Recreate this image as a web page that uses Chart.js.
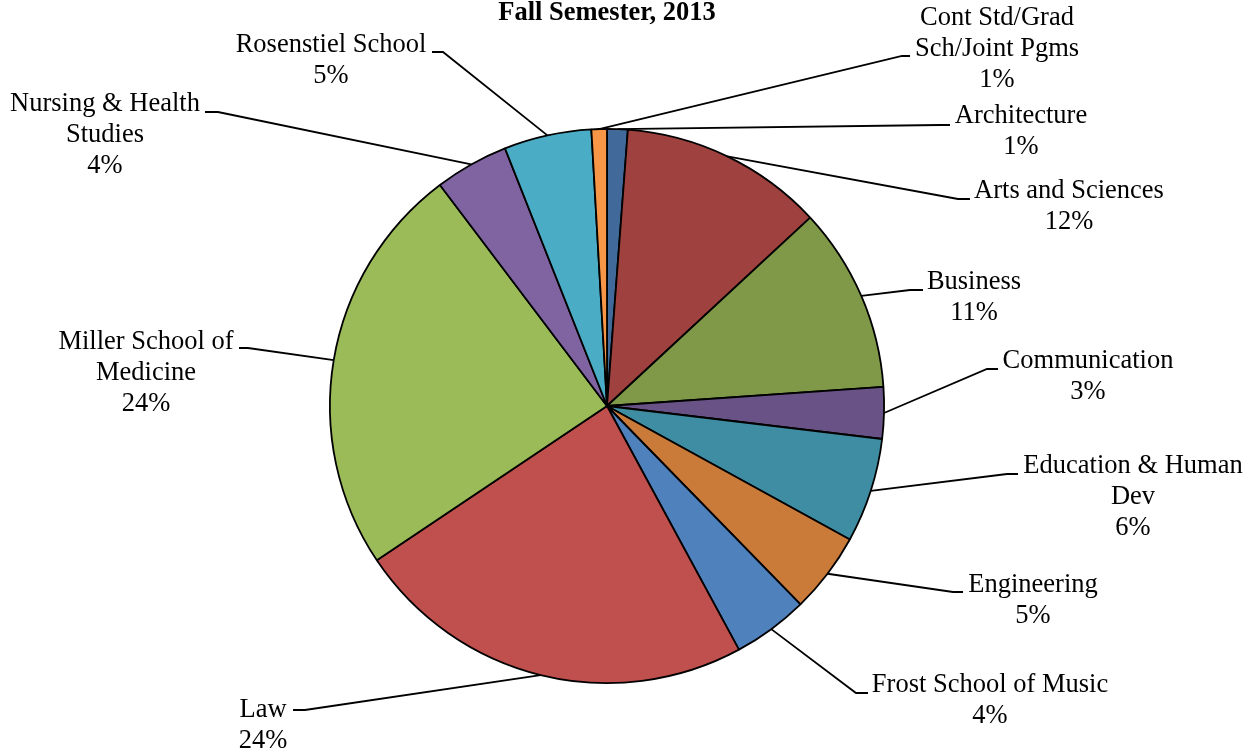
<!DOCTYPE html>
<html lang="en">
<head>
  <meta charset="UTF-8">
  <title>Fall Semester, 2013</title>
  <script src="https://cdn.jsdelivr.net/npm/chart.js"></script>
  <style>
    html, body {
      margin: 0;
      padding: 0;
      background: #ffffff;
    }
    #wrap {
      width: 1256px;
      height: 752px;
    }
  </style>
</head>
<body>
  <div id="wrap"><canvas id="pieChart" width="1256" height="752"></canvas></div>

  <script>
    // data
    const schools = [
      'Architecture', 'Arts and Sciences', 'Business', 'Communication',
      ['Education & Human', 'Dev'], 'Engineering', 'Frost School of Music', 'Law',
      ['Miller School of', 'Medicine'], ['Nursing & Health', 'Studies'],
      'Rosenstiel School', ['Cont Std/Grad', 'Sch/Joint Pgms']
    ];
    const shares = [1.2, 11.9, 10.8, 3.0, 6.1, 4.7, 4.4, 23.5, 24.1, 4.3, 5.1, 0.9];
    const sliceColors = [
      '#416a9b', '#9e413f', '#7f9949', '#695285', '#3e8da2', '#cb7b39',
      '#4f81bd', '#c0504d', '#9bbb59', '#8064a2', '#4bacc6', '#f79646'
    ];
    const titleText = 'Fall Semester, 2013';

    // where each label sits: text centre x, first line y, elbow of leader, end of hook
    const labelLayout = [
      { x: 1021, y: 116, ex: 940, ey: 125, hx: 950 },
      { x: 1069, y: 191, ex: 958, ey: 199, hx: 970 },
      { x: 974,  y: 282, ex: 910, ey: 290, hx: 923 },
      { x: 1088, y: 361, ex: 987, ey: 369, hx: 998 },
      { x: 1133, y: 466, ex: 1007, ey: 474, hx: 1018 },
      { x: 1033, y: 585, ex: 953, ey: 592, hx: 963 },
      { x: 990,  y: 685, ex: 856, ey: 693, hx: 868 },
      { x: 263,  y: 710, ex: 305, ey: 710, hx: 293 },
      { x: 146,  y: 342, ex: 248, ey: 348, hx: 239 },
      { x: 105,  y: 104, ex: 218, ey: 112, hx: 205 },
      { x: 331,  y: 45,  ex: 443, ey: 52,  hx: 432 },
      { x: 997,  y: 18,  ex: 902, ey: 56,  hx: 910 }
    ];

    const leaderLabels = {
      id: 'leaderLabels',
      afterDraw(chart) {
        const ctx = chart.ctx;
        const arcs = chart.getDatasetMeta(0).data;
        const values = chart.data.datasets[0].data;
        const total = values.reduce((a, b) => a + b, 0);

        ctx.save();
        // title
        ctx.fillStyle = '#000';
        ctx.font = 'bold 26.5px "Liberation Serif", "Times New Roman", serif';
        ctx.textAlign = 'center';
        ctx.textBaseline = 'alphabetic';
        ctx.fillText(titleText, 607, 20);

        ctx.font = '26.5px "Liberation Serif", "Times New Roman", serif';
        ctx.textBaseline = 'middle';
        ctx.strokeStyle = '#000';
        ctx.lineWidth = 1.8;

        arcs.forEach((arc, i) => {
          const p = arc.getProps(['x', 'y', 'startAngle', 'endAngle', 'outerRadius'], true);
          const mid = (p.startAngle + p.endAngle) / 2;
          const sx = p.x + Math.cos(mid) * p.outerRadius;
          const sy = p.y + Math.sin(mid) * p.outerRadius;
          const L = labelLayout[i];

          ctx.beginPath();
          ctx.moveTo(sx, sy);
          ctx.lineTo(L.ex, L.ey);
          ctx.lineTo(L.hx, L.ey);
          ctx.stroke();

          const name = chart.data.labels[i];
          const lines = (Array.isArray(name) ? name.slice() : [name]);
          lines.push(Math.round(values[i] * 100 / total) + '%');
          lines.forEach((t, k) => ctx.fillText(t, L.x, L.y + k * 31));
        });
        ctx.restore();
      }
    };

    new Chart(document.getElementById('pieChart'), {
      type: 'pie',
      data: {
        labels: schools,
        datasets: [{
          data: shares,
          backgroundColor: sliceColors,
          borderColor: '#000',
          borderWidth: 1.8
        }]
      },
      options: {
        responsive: false,
        animation: false,
        layout: { padding: { top: 128, bottom: 68, left: 0, right: 42 } },
        plugins: {
          legend: { display: false },
          tooltip: { enabled: false },
          title: { display: false }
        }
      },
      plugins: [leaderLabels]
    });
  </script>
</body>
</html>
